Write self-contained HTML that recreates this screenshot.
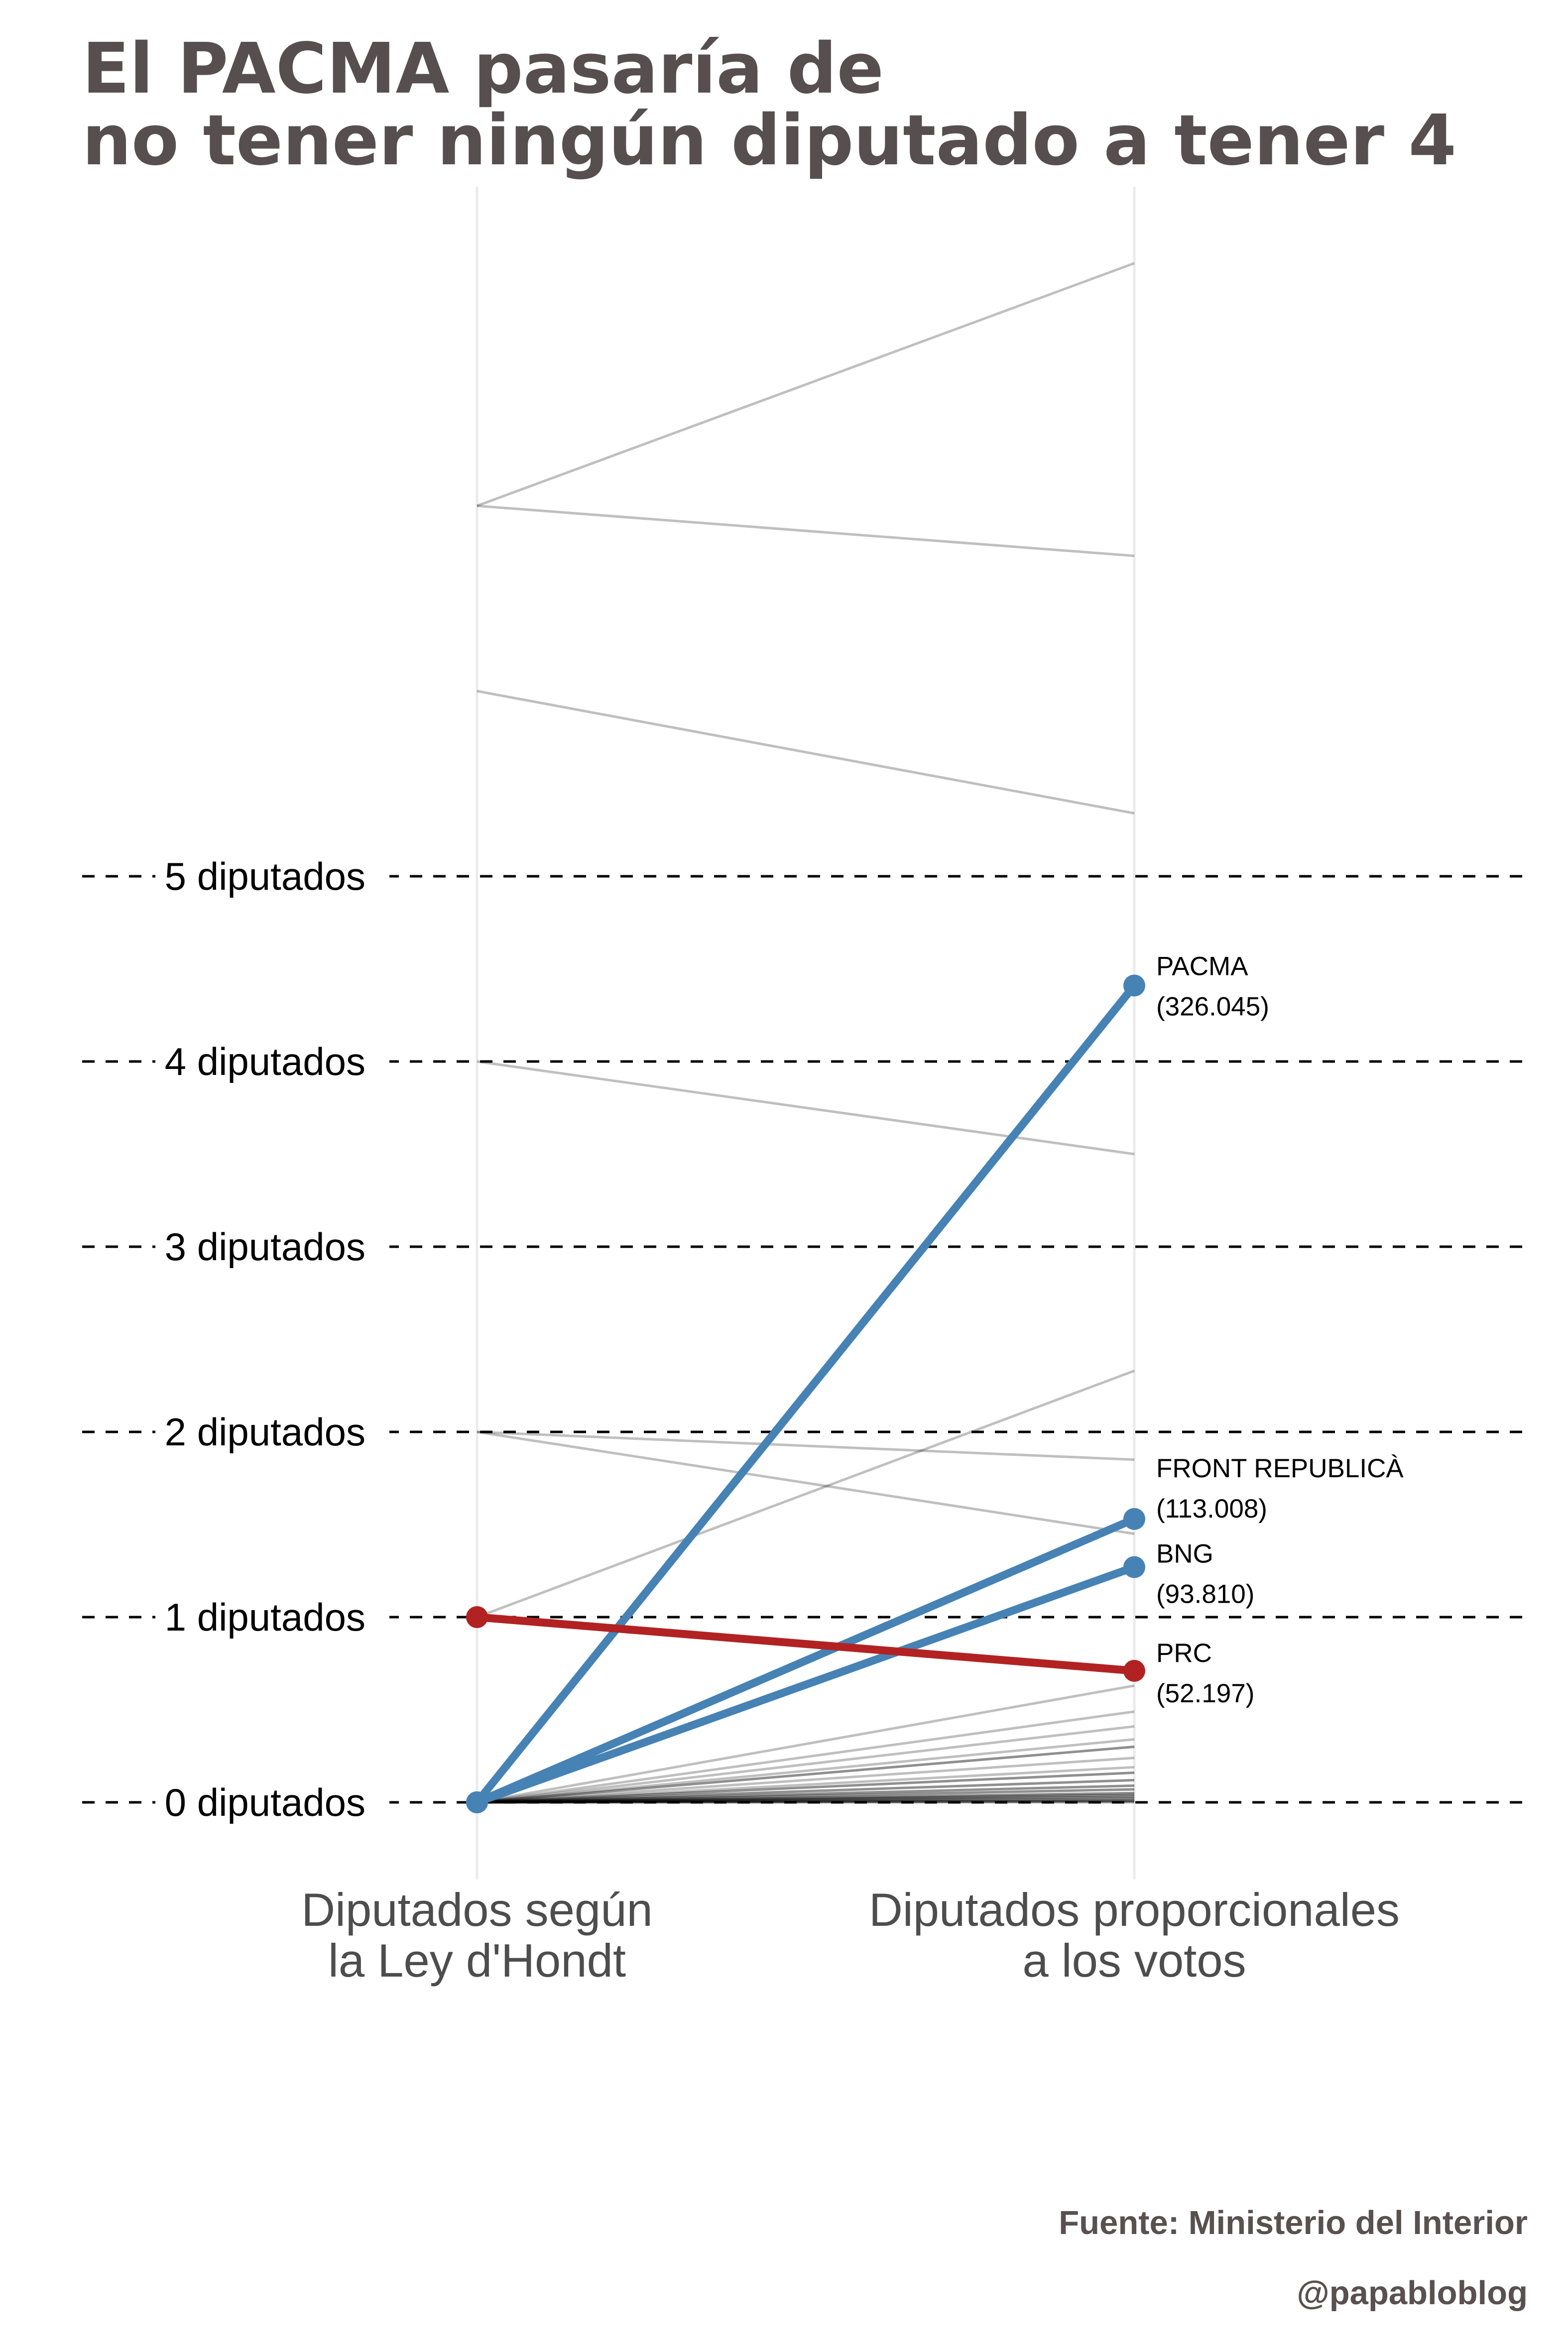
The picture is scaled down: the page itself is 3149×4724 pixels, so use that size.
<!DOCTYPE html>
<html><head><meta charset="utf-8"><style>
html,body{margin:0;padding:0;background:#fff;}
svg{display:block;}
</style></head><body>
<svg id="chart" xmlns="http://www.w3.org/2000/svg" width="3149" height="4724" viewBox="0 0 3149 4724">
<rect width="3149" height="4724" fill="#fff"/>
<g font-family="DejaVu Sans, sans-serif" font-weight="bold" fill="#574f4f" font-size="140">
<text x="165" y="186" textLength="1610" lengthAdjust="spacingAndGlyphs">El PACMA pasaría de</text>
<text x="165" y="330" textLength="2760" lengthAdjust="spacingAndGlyphs">no tener ningún diputado a tener 4</text>
</g>
<g id="axes"></g>
<g id="grid"></g>
<g id="lines"></g>
<g id="labels"></g>
<g font-family="Liberation Sans, sans-serif" font-size="94" fill="#4d4d4d" text-anchor="middle">
<text x="958" y="3868">Diputados según</text>
<text x="958" y="3970">la Ley d'Hondt</text>
<text x="2278" y="3868">Diputados proporcionales</text>
<text x="2278" y="3970">a los votos</text>
</g>
<g font-family="Liberation Sans, sans-serif" font-weight="bold" font-size="67" fill="#595050" text-anchor="end">
<text x="3068" y="4487">Fuente: Ministerio del Interior</text>
<text x="3068" y="4628">@papabloblog</text>
</g>
</svg>
<script>
const tickValues=[0,1,2,3,4,5];
const tickLabels=["0 diputados","1 diputados","2 diputados","3 diputados","4 diputados","5 diputados"];
const grayLeft=[7,7,6,4,2,2,1,0,0,0,0,0,0,0,0,0,0,0,0,0,0,0,0,0,0,0,0,0,0,0,0,0,0,0,0,0];
const grayRight=[8.31,6.73,5.34,3.50,1.85,1.45,2.33,0.63,0.49,0.41,0.34,0.30,0.30,0.24,0.19,0.16,0.16,0.12,0.12,0.09,0.09,0.07,0.07,0.05,0.05,0.04,0.04,0.03,0.03,0.02,0.02,0.01,0.01,0.005,0.005,0];
const hiNames=["PACMA","FRONT REPUBLICÀ","BNG","PRC"];
const hiVotes=["(326.045)","(113.008)","(93.810)","(52.197)"];
const hiLeft=[0,0,0,1];
const hiRight=[4.41,1.53,1.27,0.71];
const hiColor=["#4682b4","#4682b4","#4682b4","#b22222"];

const NS="http://www.w3.org/2000/svg";
const xL=958,xR=2278;
const labelNudge=[-21,-84,-9,-18];
function y(v){return 3620-v*372;}
function mk(tag,attrs,parent){const e=document.createElementNS(NS,tag);for(const k in attrs)e.setAttribute(k,attrs[k]);parent.appendChild(e);return e;}

const axes=document.getElementById('axes');
let a1=mk('line',{x1:xL,x2:xL,y1:375,y2:3775,stroke:'#ebebeb','stroke-width':5},axes);


let a2=mk('line',{x1:xR,x2:xR,y1:375,y2:3775,stroke:'#ebebeb','stroke-width':5},axes);



const grid=document.getElementById('grid');
tickValues.forEach((v,i)=>{
  const g=mk('line',{x1:165,x2:3070,y1:y(v),y2:y(v),stroke:'#000','stroke-width':5,'stroke-dasharray':'25 22'},grid);
  
  
  mk('rect',{x:312,y:y(v)-45,width:470,height:90,fill:'#fff'},grid);
  const t=mk('text',{x:734,y:y(v)+27,'font-family':'Liberation Sans, sans-serif','font-size':78,'text-anchor':'end',fill:'#000'},grid);
  t.textContent=tickLabels[i];
  
  
});

const lines=document.getElementById('lines');
grayLeft.forEach((l,i)=>{
  const e=mk('line',{x1:xL,y1:y(l),x2:xR,y2:y(grayRight[i]),stroke:'rgba(0,0,0,0.25)','stroke-width':5},lines);
  
  
});
const labels=document.getElementById('labels');
hiNames.forEach((n,i)=>{
  const e=mk('line',{x1:xL,y1:y(hiLeft[i]),x2:xR,y2:y(hiRight[i]),stroke:hiColor[i],'stroke-width':16},lines);
  
  
});
hiNames.forEach((n,i)=>{
  const c1=mk('circle',{cx:xL,cy:y(hiLeft[i]),r:22,fill:hiColor[i]},lines);
  
  
  const c2=mk('circle',{cx:xR,cy:y(hiRight[i]),r:22,fill:hiColor[i]},lines);
  
  
  const t=mk('text',{x:2322,y:y(hiRight[i])+labelNudge[i],'font-family':'Liberation Sans, sans-serif','font-size':53,fill:'#000'},labels);
  t.textContent=n;
  
  
  const t2=mk('text',{x:2322,y:y(hiRight[i])+labelNudge[i]+81,'font-family':'Liberation Sans, sans-serif','font-size':53,fill:'#000'},labels);
  t2.textContent=hiVotes[i];
  
  
});
</script>
</body></html>
